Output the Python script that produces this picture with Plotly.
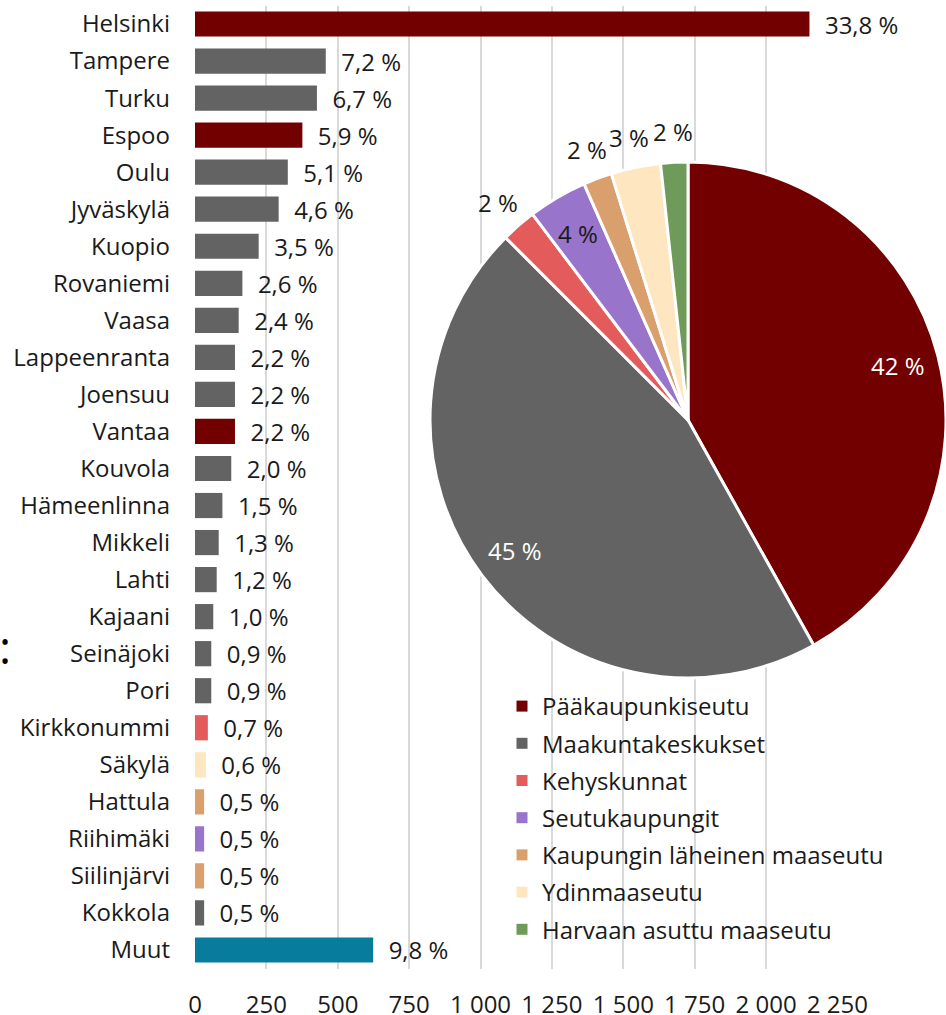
import math
import plotly.graph_objects as go

# ---- Data ----
cities = ["Helsinki", "Tampere", "Turku", "Espoo", "Oulu", "Jyväskylä", "Kuopio",
          "Rovaniemi", "Vaasa", "Lappeenranta", "Joensuu", "Vantaa", "Kouvola",
          "Hämeenlinna", "Mikkeli", "Lahti", "Kajaani", "Seinäjoki", "Pori",
          "Kirkkonummi", "Säkylä", "Hattula", "Riihimäki", "Siilinjärvi", "Kokkola", "Muut"]
values = [2152, 458, 427, 376, 325, 293, 223, 166, 153, 140, 140, 140, 127,
          96, 83, 76, 64, 57, 57, 45, 38, 32, 32, 32, 32, 624]
value_labels = ["33,8 %", "7,2 %", "6,7 %", "5,9 %", "5,1 %", "4,6 %", "3,5 %",
                "2,6 %", "2,4 %", "2,2 %", "2,2 %", "2,2 %", "2,0 %",
                "1,5 %", "1,3 %", "1,2 %", "1,0 %", "0,9 %", "0,9 %",
                "0,7 %", "0,6 %", "0,5 %", "0,5 %", "0,5 %", "0,5 %", "9,8 %"]
city_groups = ["pk", "mk", "mk", "pk", "mk", "mk", "mk", "mk", "mk", "mk", "mk", "pk", "mk",
               "mk", "mk", "mk", "mk", "mk", "mk", "kehys", "ydin", "lah", "seutu", "lah", "mk", "muut"]

regions = ["Pääkaupunkiseutu", "Maakuntakeskukset", "Kehyskunnat", "Seutukaupungit",
           "Kaupungin läheinen maaseutu", "Ydinmaaseutu", "Harvaan asuttu maaseutu"]
region_keys = ["pk", "mk", "kehys", "seutu", "lah", "ydin", "harva"]
region_shares = [41.9, 45.6, 2.2, 3.7, 1.8, 3.1, 1.7]
region_labels = ["42 %", "45 %", "2 %", "4 %", "2 %", "3 %", "2 %"]
region_label_inside = [True, True, False, True, False, False, False]

x_ticks = [0, 250, 500, 750, 1000, 1250, 1500, 1750, 2000, 2250]
x_ticktext = ["0", "250", "500", "750", "1 000", "1 250", "1 500", "1 750", "2 000", "2 250"]

# ---- Styles ----
palette = {
    "pk": "#720000",
    "mk": "#636363",
    "kehys": "#E35B5B",
    "seutu": "#9874CA",
    "lah": "#D9A06E",
    "ydin": "#FDE6C0",
    "harva": "#6E9A5A",
    "muut": "#077C9C",
}
FONT = "Open Sans"
FS = 24
TXT = "#1a1a1a"
W, H = 946, 1015
NB = "\u00a0\u00a0"

# pie geometry (pixels)
PIE_X0, PIE_X1 = 430, 946
PIE_CY = 420
PIE_R = (PIE_X1 - PIE_X0) / 2
PIE_CX = (PIE_X0 + PIE_X1) / 2

fig = go.Figure()

fig.add_trace(go.Bar(
    y=cities, x=values, orientation="h",
    marker=dict(color=[palette[g] for g in city_groups], line=dict(width=0)),
    width=0.68,
    text=[NB + t for t in value_labels],
    textposition="outside",
    constraintext="none",
    cliponaxis=False,
    textfont=dict(family=FONT, size=FS, color=TXT),
    showlegend=False,
    hoverinfo="skip",
))

fig.add_trace(go.Pie(
    labels=regions, values=region_shares,
    textinfo="none",
    marker=dict(colors=[palette[k] for k in region_keys], line=dict(color="white", width=3)),
    sort=False, direction="clockwise", rotation=0,
    domain=dict(x=[PIE_X0 / W, PIE_X1 / W],
                y=[1 - (PIE_CY + PIE_R) / H, 1 - (PIE_CY - PIE_R) / H]),
    showlegend=False,
    hoverinfo="skip",
))

# pie labels placed along each slice's mid-angle
total = sum(region_shares)
cum = 0.0
for share, lab, inside, key in zip(region_shares, region_labels, region_label_inside, region_keys):
    mid = (cum + share / 2) / total * 2 * math.pi
    cum += share
    rr = PIE_R * (0.84 if inside else 1.12)
    px = PIE_CX + rr * math.sin(mid)
    py = PIE_CY - rr * math.cos(mid)
    color = "white" if key in ("pk", "mk") else TXT
    fig.add_annotation(text=lab, x=px / W, y=1 - py / H, xref="paper", yref="paper",
                       showarrow=False, xanchor="center", yanchor="middle",
                       font=dict(family=FONT, size=FS, color=color))

# legend entries (one group per region for spacing)
for name, key in zip(regions, region_keys):
    fig.add_trace(go.Scatter(
        x=[None], y=[None], mode="markers",
        marker=dict(symbol="square", size=11, color=palette[key]),
        name=name, legendgroup=name, showlegend=True, hoverinfo="skip",
    ))

fig.add_annotation(text=":", x=0, y=1 - 646 / H, xref="paper", yref="paper",
                   showarrow=False, font=dict(family=FONT, size=46, color="black"),
                   xanchor="left", yanchor="middle", xshift=-3)

fig.update_layout(
    width=W, height=H,
    margin=dict(l=0, r=0, t=0, b=0, autoexpand=False),
    paper_bgcolor="white", plot_bgcolor="white",
    font=dict(family=FONT, size=FS, color=TXT),
    xaxis=dict(
        domain=[195 / W, 838 / W], range=[0, 2252],
        tickvals=x_ticks, ticktext=x_ticktext,
        showgrid=True, gridcolor="#D9D9D9", gridwidth=1.5,
        zeroline=False, showline=False, ticks="",
        tickfont=dict(family=FONT, size=FS, color=TXT),
        ticklabelstandoff=19, automargin=False, fixedrange=True,
    ),
    yaxis=dict(
        domain=[46.5 / H, 1 - 5.5 / H],
        categoryorder="array", categoryarray=cities, autorange="reversed",
        showgrid=False, zeroline=False, showline=False, ticks="",
        tickfont=dict(family=FONT, size=FS, color=TXT),
        ticklabelstandoff=24, automargin=False, fixedrange=True,
    ),
    legend=dict(
        x=502 / W, y=1 - 684 / H, xanchor="left", yanchor="top",
        font=dict(family=FONT, size=FS, color=TXT),
        tracegroupgap=3, bgcolor="rgba(0,0,0,0)",
        itemclick=False, itemdoubleclick=False,
    ),
)

fig.write_html("out.html", config={"displayModeBar": False},
               post_script="document.body.style.margin='0';")
